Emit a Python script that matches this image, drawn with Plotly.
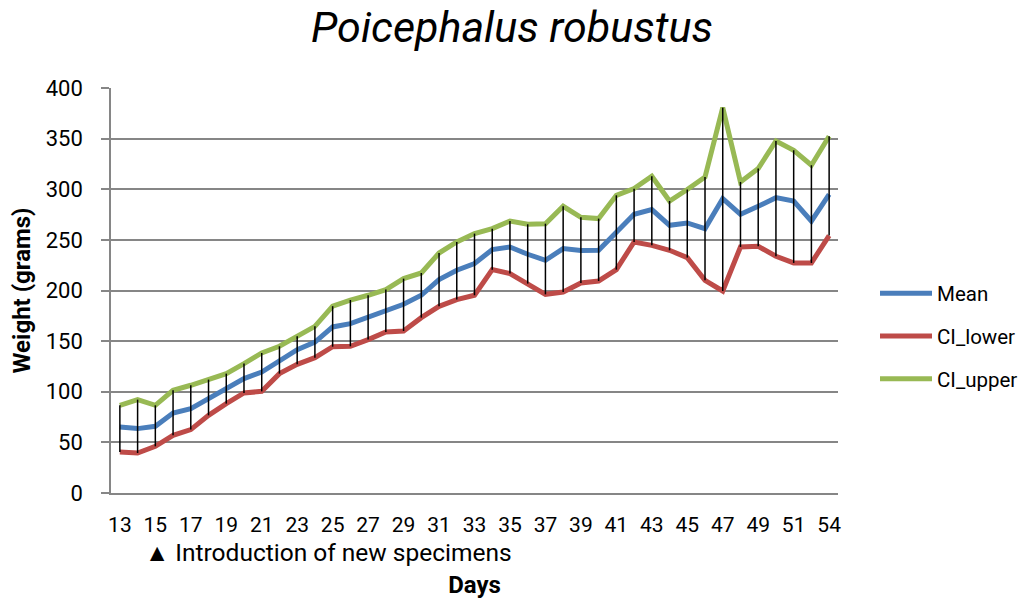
import plotly.graph_objects as go

days = [str(d) for d in list(range(13, 53)) + [54]]

mean = [65.2, 63.6, 65.9, 79.0, 83.4, 93.2, 102.1, 113.0, 119.5, 131.0,
        141.6, 149.1, 164.0, 167.3, 173.8, 180.4, 186.4, 195.3, 210.8, 220.0,
        226.6, 240.4, 243.0, 235.8, 229.8, 241.4, 239.5, 239.7, 257.8, 275.3,
        279.9, 264.4, 266.7, 261.1, 290.8, 275.3, 283.2, 291.7, 288.4, 268.6,
        295.0]

ci_lower = [40.5, 39.5, 46.1, 57.0, 62.6, 76.7, 88.3, 98.8, 100.4, 117.9,
            127.1, 133.7, 144.5, 144.9, 151.5, 159.0, 160.0, 173.2, 184.4, 191.0,
            195.3, 220.6, 216.7, 206.8, 196.2, 198.5, 207.4, 209.4, 220.6, 247.9,
            244.6, 239.7, 232.5, 210.1, 199.5, 243.0, 243.7, 233.8, 227.2, 227.2,
            254.3]

ci_upper = [86.6, 92.2, 86.6, 101.4, 106.4, 112.0, 117.9, 127.8, 138.3, 144.9,
            154.8, 164.6, 184.5, 190.6, 195.3, 200.9, 211.7, 217.3, 237.0, 247.9,
            256.2, 261.1, 268.6, 265.4, 266.0, 283.2, 272.3, 271.0, 294.0, 300.6,
            312.8, 288.4, 299.7, 312.1, 380.6, 307.2, 320.4, 347.7, 338.5, 323.7,
            352.3]

tick_labels = days[::2]

title_text = "Poicephalus robustus"
note_text = "\u25B2 Introduction of new specimens"

FONT = "Roboto"

fig = go.Figure()

series = [("Mean", mean, "#4A7EBB"),
          ("CI_lower", ci_lower, "#BE4B48"),
          ("CI_upper", ci_upper, "#98B954")]
for name, vals, col in series:
    fig.add_trace(go.Scatter(x=days, y=vals, mode="lines", name=name,
                             legendgroup=name,
                             line=dict(color=col, width=5)))

# high-low lines
hx, hy = [], []
for d, lo, hi in zip(days, ci_lower, ci_upper):
    hx += [d, d, None]
    hy += [lo, hi, None]
fig.add_trace(go.Scatter(x=hx, y=hy, mode="lines", showlegend=False,
                         hoverinfo="skip", line=dict(color="black", width=1.5)))

fig.update_layout(
    width=1024, height=600,
    paper_bgcolor="white", plot_bgcolor="white",
    margin=dict(l=111, r=186, t=88, b=107, autoexpand=False),
    font=dict(family=FONT, color="black"),
    title=dict(text=title_text, x=0.5, xanchor="center", y=0.955, yanchor="middle",
               font=dict(family=FONT, size=43, style="italic", color="black"),
               automargin=False),
    legend=dict(x=(875 - 111) / 727, xanchor="left", y=(493 - 336) / 405, yanchor="middle",
                font=dict(size=20.5), tracegroupgap=13, itemwidth=52,
                bgcolor="rgba(0,0,0,0)"),
    showlegend=True,
)

fig.update_xaxes(type="category", categoryorder="array", categoryarray=days,
                 range=[-0.5, len(days) - 0.5], automargin=False,
                 tickmode="array", tickvals=tick_labels, ticktext=tick_labels,
                 ticks="", ticklabelstandoff=12,
                 tickfont=dict(size=21, family=FONT),
                 showline=True, linecolor="#868686", linewidth=1.5,
                 showgrid=False, zeroline=False,
                 title=dict(text="<b>Days</b>", font=dict(size=24, family=FONT), standoff=40))

fig.update_yaxes(range=[0, 400], dtick=50, tick0=0, automargin=False,
                 ticks="outside", ticklen=8, tickcolor="#868686", tickwidth=1.5,
                 ticklabelstandoff=14,
                 tickfont=dict(size=22, family=FONT),
                 showline=True, linecolor="#868686", linewidth=1.5,
                 showgrid=True, gridcolor="#868686", gridwidth=1.5,
                 zeroline=False,
                 title=dict(text="<b>Weight (grams)</b>", font=dict(size=24, family=FONT), standoff=8))

fig.add_annotation(text=note_text, xref="paper", yref="paper",
                   x=(143 - 111) / 727, xanchor="left",
                   y=(493 - 552) / 405, yanchor="middle",
                   showarrow=False, font=dict(size=24.5, family=FONT, color="black"))

fig.write_html("out.html", config={"displayModeBar": False},
               post_script="document.body.style.margin='0';document.body.style.padding='0';")
